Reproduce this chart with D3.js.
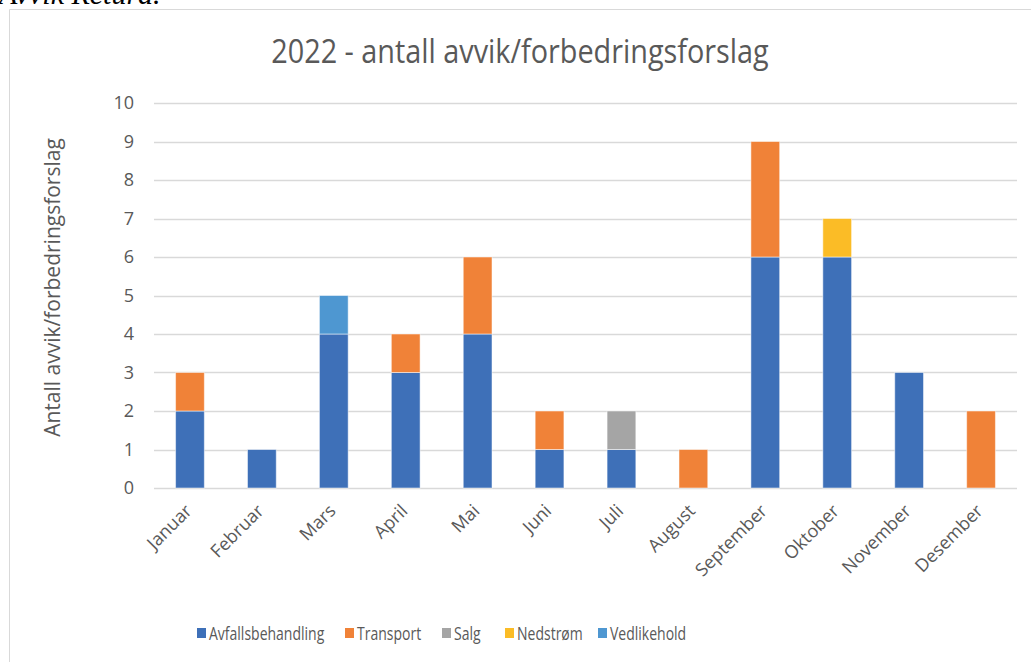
<!DOCTYPE html>
<html><head><meta charset="utf-8">
<script src="https://cdn.jsdelivr.net/npm/d3@7"></script>
<style>body{margin:0;background:#fff;} text{font-family:"Open Sans",sans-serif;}</style>
</head><body>
<svg id="c" width="1031" height="662"></svg>
<script>
const months = ["Januar","Februar","Mars","April","Mai","Juni","Juli","August","September","Oktober","November","Desember"];
const seriesNames = ["Avfallsbehandling","Transport","Salg","Nedstrøm","Vedlikehold"];
const avfallsbehandling = [2,1,4,3,4,1,1,0,6,6,3,0];
const transport = [1,0,0,1,2,1,0,1,3,0,0,2];
const salg = [0,0,0,0,0,0,1,0,0,0,0,0];
const nedstrom = [0,0,0,0,0,0,0,0,0,1,0,0];
const vedlikehold = [0,0,1,0,0,0,0,0,0,0,0,0];
const yTicks = [0,1,2,3,4,5,6,7,8,9,10];
const colors = ["#3E70B8","#F08238","#A5A5A5","#FBBC26","#4E97D1"];
const title = "2022 - antall avvik/forbedringsforslag";
const yTitle = "Antall avvik/forbedringsforslag";
const caption = "Avvik Retura.";

const svg = d3.select("#c");
const seriesVals = [avfallsbehandling, transport, salg, nedstrom, vedlikehold];
const rows = months.map((m,i)=>{const r={month:m}; seriesNames.forEach((s,j)=>r[s]=seriesVals[j][i]); return r;});
const stack = d3.stack().keys(seriesNames)(rows);

function condense(sel, f){ sel.each(function(){ const w=this.getComputedTextLength(); d3.select(this).attr("textLength",w*f).attr("lengthAdjust","spacingAndGlyphs"); }); }

// frame + header text
svg.append("text").attr("x",-1).attr("y",4).style("font-family","'Liberation Serif',serif").style("font-style","italic").style("font-size","30px").attr("fill","#000").text(caption);
svg.append("line").attr("x1",9.5).attr("x2",1031).attr("y1",9.5).attr("y2",9.5).attr("stroke","#d9d9d9");
svg.append("line").attr("x1",9.5).attr("x2",9.5).attr("y1",9.5).attr("y2",662).attr("stroke","#d9d9d9");

const x = d3.scaleBand().domain(months).range([154,1017]).paddingInner(0.6).paddingOuter(0.3);
const y = d3.scaleLinear().domain([0,10]).range([488,103]);

// gridlines
svg.append("g").selectAll("line").data(yTicks).join("line")
  .attr("x1",154).attr("x2",1017).attr("y1",d=>Math.round(y(d))+0.5).attr("y2",d=>Math.round(y(d))+0.5)
  .attr("stroke","#d9d9d9").attr("stroke-width",1.3);

// y axis labels
const ya = svg.append("g").attr("transform","translate(134,0)").call(d3.axisLeft(y).tickValues(yTicks).tickSize(0).tickPadding(0).tickFormat(d3.format("d")));
ya.select(".domain").remove();
ya.selectAll("text").style("font-size","18px").attr("fill","#595959").style("font-family","'Open Sans',sans-serif");

// bars
svg.append("g").selectAll("g").data(stack).join("g").attr("fill",(d,i)=>colors[i])
  .selectAll("rect").data(d=>d.filter(p=>p[1]>p[0])).join("rect")
  .attr("x",d=>x(d.data.month)).attr("width",x.bandwidth())
  .attr("y",d=>y(d[1])).attr("height",d=>y(d[0])-y(d[1]))
  .attr("stroke","#fff").attr("stroke-opacity",0.5).attr("stroke-width",1);

// x axis labels
const xa = svg.append("g").attr("transform","translate(0,488)").call(d3.axisBottom(x).tickSize(0).tickPadding(0));
xa.select(".domain").remove();
xa.selectAll("text").attr("text-anchor","end").attr("dy",0)
  .attr("transform","translate(3,24) rotate(-45)")
  .style("font-size","18px").attr("fill","#595959").style("font-family","'Open Sans',sans-serif");

// title
svg.append("text").attr("x",520).attr("y",63).attr("text-anchor","middle").style("font-size","32px").attr("fill","#595959").text(title).call(condense,0.9);
svg.append("text").attr("transform","translate(60,287.5) rotate(-90)").attr("text-anchor","middle").style("font-size","21px").attr("fill","#595959").text(yTitle);

// legend
const legX = [197,345,442,505,598];
const lg = svg.append("g").selectAll("g").data(seriesNames).join("g").attr("transform",(d,i)=>`translate(${legX[i]},628)`);
lg.append("rect").attr("x",0).attr("y",0).attr("width",9).attr("height",10).attr("fill",(d,i)=>colors[i]);
lg.append("text").attr("x",12).attr("y",11.5).style("font-size","17.5px").attr("fill","#595959").text(d=>d).call(condense,0.8);
</script>
</body></html>
